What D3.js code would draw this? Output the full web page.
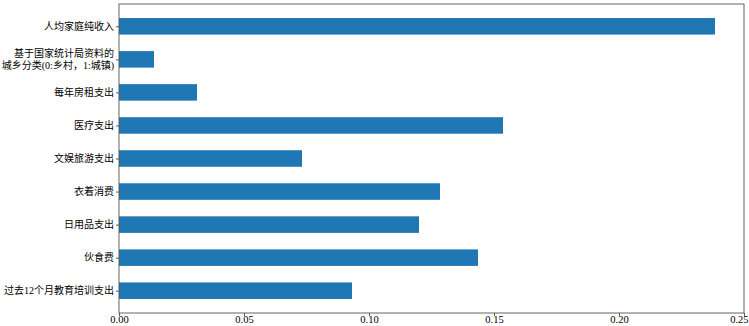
<!DOCTYPE html>
<html lang="zh">
<head>
    <meta charset="UTF-8">
    <title>特征重要性</title>
    <script src="https://d3js.org/d3.v7.min.js"></script>
    <style>
        body {
            margin: 0;
            background: #fff;
        }
        svg {
            display: block;
        }
        text {
            font-family: "Liberation Serif", "Noto Sans CJK SC", serif;
            font-size: 10px;
            fill: #000;
        }
    </style>
</head>
<body>
<div id="container"></div>
<script>
    // categories, top to bottom
    const categories = [
        '人均家庭纯收入',
        '基于国家统计局资料的\n城乡分类(0:乡村，1:城镇)',
        '每年房租支出',
        '医疗支出',
        '文娱旅游支出',
        '衣着消费',
        '日用品支出',
        '伙食费',
        '过去12个月教育培训支出'
    ];
    const values = [0.2384, 0.0140, 0.0312, 0.1536, 0.0732, 0.1284, 0.1200, 0.1436, 0.0932];
    const xTicks = [0, 0.05, 0.10, 0.15, 0.20, 0.25];

    const width = 749, height = 326;
    const margin = {left: 119, right: 5, top: 4, bottom: 13};
    const innerW = width - margin.left - margin.right;
    const innerH = height - margin.top - margin.bottom;

    const svg = d3.select('#container').append('svg')
        .attr('width', width)
        .attr('height', height);

    const g = svg.append('g')
        .attr('transform', `translate(${margin.left},${margin.top})`);

    // x scale
    const x = d3.scaleLinear()
        .domain([0, 0.25])
        .range([0, innerW]);

    // y: category index with matplotlib-like 5% margins
    const n = categories.length;
    const y = d3.scaleLinear()
        .domain([-0.675, n - 1 + 0.675])
        .range([0, innerH]);
    const barH = y(0.5) - y(0);

    g.selectAll('.bar')
        .data(values)
        .enter()
        .append('rect')
        .attr('class', 'bar')
        .attr('x', x(0))
        .attr('y', (d, i) => y(i) - barH / 2)
        .attr('width', d => x(d) - x(0))
        .attr('height', barH)
        .attr('fill', '#1f77b4');

    // x axis
    const xAxis = g.append('g')
        .attr('transform', `translate(0,${innerH})`)
        .call(d3.axisBottom(x).tickValues(xTicks).tickFormat(d3.format('.2f')).tickSize(3).tickPadding(0));

    // y axis
    const yAxis = g.append('g')
        .call(d3.axisLeft(y).tickValues(d3.range(n)).tickFormat('').tickSize(3));

    [xAxis, yAxis].forEach(a => {
        a.select('.domain').remove();
        a.selectAll('line').attr('stroke', '#333').attr('stroke-width', 0.8);
    });
    xAxis.selectAll('text')
        .style('font-family', null)
        .style('font-size', '10.5px')
        .attr('dy', '0.62em');
    // last label would run past the window edge: pull it in
    xAxis.selectAll('.tick')
        .filter(d => d === 0.25)
        .select('text')
        .attr('text-anchor', 'end')
        .attr('x', 4);

    // y labels, may be two lines
    g.selectAll('.ylab')
        .data(categories)
        .enter()
        .append('text')
        .attr('class', 'ylab')
        .attr('text-anchor', 'end')
        .attr('x', -5)
        .attr('y', (d, i) => y(i))
        .each(function(d) {
            const lines = d.split('\n');
            const lh = 12;
            lines.forEach((l, k) => {
                d3.select(this).append('tspan')
                    .attr('x', -5)
                    .attr('dy', k === 0 ? ((-(lines.length - 1) * lh / 2) + 3.6) : lh)
                    .text(l);
            });
        });

    // frame
    g.append('rect')
        .attr('width', innerW)
        .attr('height', innerH)
        .attr('fill', 'none')
        .attr('stroke', '#555')
        .attr('stroke-width', 0.9);
</script>
</body>
</html>
